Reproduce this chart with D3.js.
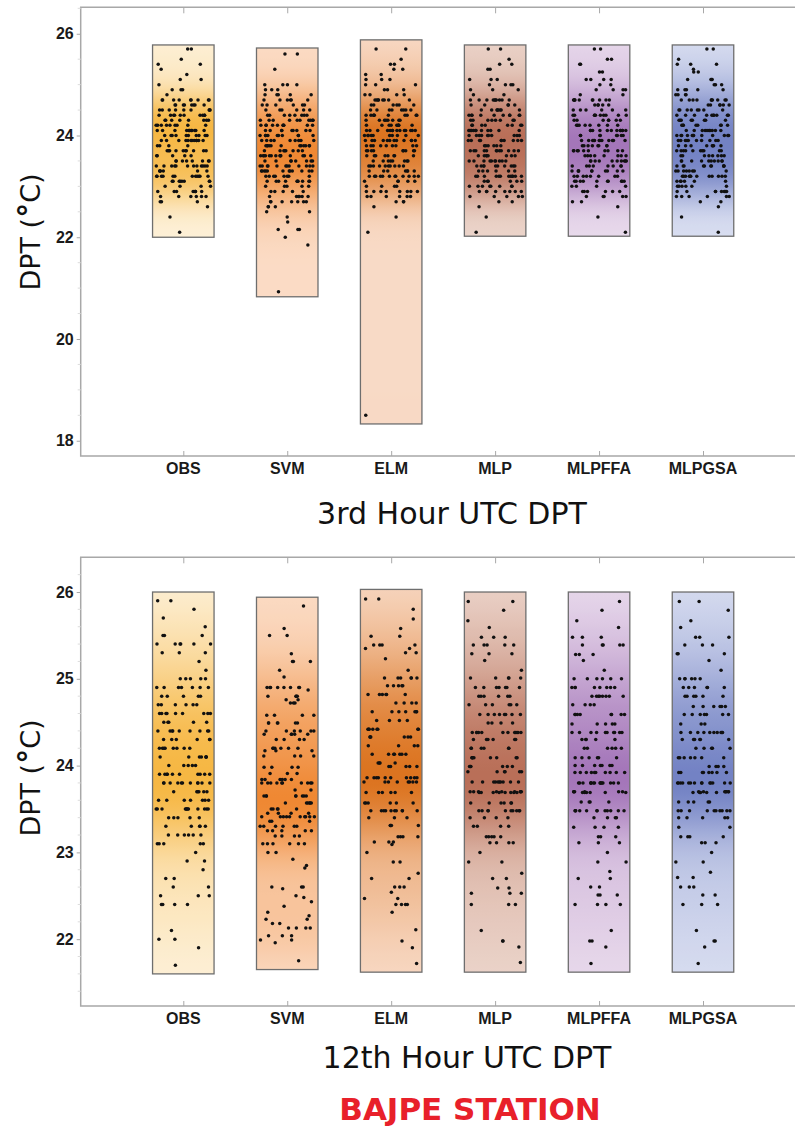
<!DOCTYPE html>
<html><head><meta charset="utf-8">
<script src="https://cdn.jsdelivr.net/npm/d3@7"></script>
<style>body{margin:0;background:#fff}svg{display:block}</style>
</head><body>
<svg id="chart" width="795" height="1126"></svg>
<script>
// ---------- data ----------
const categories = ["OBS","SVM","ELM","MLP","MLPFFA","MLPGSA"];
const lightColors = ["#fdf1da","#fbdcc6","#f8dac6","#ecd6cc","#e9dbec","#dadff1"];
const darkColors  = ["#f6b743","#ef8833","#dc7420","#b96f58","#a476b9","#7382c4"];

const ticks03 = [18,20,22,24,26];
const ticks12 = [22,23,24,25,26];
const titles = ["3rd Hour UTC DPT","12th Hour UTC DPT"];
const stationName = "BAJPE STATION";

// box extents (value range drawn for each category)
const box03Low  = [22.0, 20.83, 18.33, 22.02, 22.02, 22.02];
const box03High = [25.78, 25.72, 25.88, 25.78, 25.78, 25.78];
const box12Low  = [21.6, 21.65, 21.62, 21.62, 21.62, 21.62];
const box12High = [26.0, 25.94, 26.03, 26.0, 26.0, 26.0];

// [value, count] pairs – 3rd hour
const h03_OBS = [[25.7,2],[25.5,1],[25.4,2],[25.3,1],[25.2,1],[25.1,2],[25.0,1],[24.9,3],[24.8,1],[24.7,9],[24.6,8],[24.5,9],[24.4,10],[24.3,8],[24.2,9],[24.1,12],[24.0,10],[23.9,12],[23.8,4],[23.7,10],[23.6,5],[23.5,8],[23.4,12],[23.3,6],[23.2,12],[23.1,8],[23.0,4],[22.9,8],[22.8,6],[22.7,3],[22.6,1],[22.4,1],[22.1,1]];
const h03_SVM = [[25.6,2],[25.3,1],[25.0,4],[24.9,3],[24.8,5],[24.7,6],[24.6,6],[24.5,6],[24.4,8],[24.3,10],[24.2,10],[24.1,9],[24.0,10],[23.9,9],[23.8,12],[23.7,8],[23.6,14],[23.5,8],[23.4,12],[23.3,12],[23.2,8],[23.1,10],[23.0,5],[22.9,5],[22.8,6],[22.7,7],[22.6,3],[22.5,2],[22.4,1],[22.3,1],[22.15,3],[22.0,1],[21.85,1],[20.93,1]];
const h03_ELM = [[25.7,2],[25.5,1],[25.4,2],[25.3,2],[25.2,2],[25.1,3],[25.0,3],[24.9,3],[24.8,4],[24.7,8],[24.6,6],[24.5,8],[24.4,10],[24.3,8],[24.2,9],[24.1,14],[24.0,10],[23.9,12],[23.8,9],[23.7,9],[23.6,8],[23.5,8],[23.4,10],[23.3,7],[23.2,12],[23.1,5],[23.0,4],[22.9,8],[22.8,6],[22.7,3],[22.6,1],[22.4,1],[22.1,1],[18.5,1]];
const h03_MLP = [[25.7,2],[25.5,1],[25.4,2],[25.3,2],[25.1,3],[25.0,4],[24.9,3],[24.8,2],[24.7,10],[24.6,5],[24.5,8],[24.4,10],[24.3,8],[24.2,8],[24.1,12],[24.0,10],[23.9,10],[23.8,6],[23.7,12],[23.6,8],[23.5,10],[23.4,10],[23.3,6],[23.2,12],[23.1,6],[23.0,8],[22.9,8],[22.8,5],[22.7,2],[22.6,1],[22.4,1],[22.1,1]];
const h03_MLPFFA = [[25.7,2],[25.5,2],[25.4,2],[25.25,2],[25.1,4],[25.0,2],[24.9,4],[24.8,2],[24.7,10],[24.6,5],[24.5,6],[24.4,10],[24.3,7],[24.2,8],[24.1,12],[24.0,8],[23.9,12],[23.8,8],[23.7,10],[23.6,8],[23.5,10],[23.4,8],[23.3,10],[23.2,8],[23.1,10],[23.0,4],[22.9,6],[22.8,5],[22.7,2],[22.6,1],[22.4,1],[22.1,1]];
const h03_MLPGSA = [[25.7,2],[25.5,1],[25.4,3],[25.3,1],[25.25,2],[25.1,4],[25.0,3],[24.9,5],[24.8,4],[24.7,10],[24.6,6],[24.5,8],[24.4,10],[24.3,8],[24.2,8],[24.1,10],[24.0,12],[23.9,10],[23.8,8],[23.7,10],[23.6,8],[23.5,10],[23.4,10],[23.3,8],[23.2,12],[23.1,6],[23.0,6],[22.9,8],[22.8,6],[22.7,2],[22.6,1],[22.4,1],[22.1,1]];

// 12th hour
const h12_OBS = [[25.9,2],[25.8,1],[25.7,1],[25.6,1],[25.5,3],[25.4,6],[25.3,3],[25.2,1],[25.1,1],[25.0,5],[24.9,7],[24.8,5],[24.7,6],[24.6,9],[24.5,5],[24.4,9],[24.3,6],[24.2,8],[24.1,7],[24.0,5],[23.9,10],[23.8,11],[23.7,6],[23.6,7],[23.5,12],[23.4,5],[23.3,5],[23.2,6],[23.1,5],[23.0,1],[22.9,2],[22.8,1],[22.7,2],[22.6,2],[22.5,3],[22.4,4],[22.1,1],[22.0,2],[21.9,1],[21.7,1]];
const h12_SVM = [[25.84,1],[25.58,1],[25.5,2],[25.29,1],[25.2,3],[25.1,1],[25.02,1],[24.9,8],[24.87,1],[24.8,4],[24.76,2],[24.72,3],[24.58,4],[24.49,6],[24.4,6],[24.36,5],[24.3,4],[24.2,6],[24.17,3],[24.11,4],[23.98,4],[23.91,3],[23.84,6],[23.8,10],[23.72,2],[23.65,8],[23.57,6],[23.5,5],[23.45,4],[23.41,10],[23.36,3],[23.3,6],[23.25,5],[23.19,4],[23.1,6],[23.0,2],[22.92,1],[22.85,1],[22.82,1],[22.6,3],[22.58,1],[22.5,1],[22.48,1],[22.43,1],[22.38,1],[22.31,1],[22.27,1],[22.23,2],[22.18,2],[22.13,4],[22.04,3],[21.99,2],[21.96,1],[21.75,1]];
const h12_ELM = [[25.92,2],[25.8,1],[25.69,1],[25.58,1],[25.49,2],[25.39,4],[25.35,2],[25.3,2],[25.23,1],[25.1,1],[25.01,6],[24.92,5],[24.82,6],[24.72,4],[24.62,7],[24.52,4],[24.42,8],[24.33,6],[24.23,4],[24.13,7],[24.03,4],[23.99,5],[23.86,10],[23.81,8],[23.69,6],[23.57,6],[23.48,10],[23.4,3],[23.31,4],[23.18,4],[23.12,3],[23.09,1],[23.0,1],[22.89,2],[22.76,1],[22.7,2],[22.6,3],[22.54,1],[22.47,2],[22.4,4],[22.31,1],[22.11,1],[21.98,1],[21.9,1],[21.72,1]];
const h12_MLP = [[25.89,2],[25.79,1],[25.67,1],[25.59,1],[25.48,3],[25.39,5],[25.29,3],[25.21,1],[25.1,1],[25.01,5],[24.9,7],[24.8,6],[24.7,6],[24.59,8],[24.49,4],[24.38,12],[24.3,6],[24.2,6],[24.09,8],[23.99,6],[23.93,6],[23.81,10],[23.7,9],[23.69,8],[23.57,6],[23.48,10],[23.4,4],[23.3,4],[23.18,5],[23.11,4],[23.0,1],[22.89,2],[22.76,1],[22.7,2],[22.59,2],[22.53,3],[22.4,3],[22.1,1],[21.98,2],[21.91,1],[21.73,1]];
const h12_MLPFFA = [[25.89,1],[25.79,1],[25.67,1],[25.59,1],[25.48,3],[25.39,5],[25.28,3],[25.21,1],[25.1,1],[25.0,6],[24.9,8],[24.8,8],[24.7,4],[24.59,8],[24.48,5],[24.38,10],[24.3,5],[24.2,6],[24.09,6],[24.0,7],[23.92,10],[23.8,16],[23.7,6],[23.69,6],[23.58,4],[23.48,12],[23.4,4],[23.29,4],[23.18,3],[23.11,3],[23.0,1],[22.89,2],[22.78,1],[22.7,2],[22.6,2],[22.51,3],[22.4,4],[22.1,1],[21.98,2],[21.91,1],[21.72,1]];
const h12_MLPGSA = [[25.89,2],[25.79,1],[25.67,1],[25.59,1],[25.48,3],[25.39,3],[25.29,3],[25.21,1],[25.1,1],[25.0,6],[24.9,6],[24.8,6],[24.68,6],[24.59,7],[24.48,3],[24.38,10],[24.3,6],[24.2,5],[24.09,7],[23.99,4],[23.92,8],[23.8,14],[23.7,7],[23.69,5],[23.58,5],[23.48,10],[23.4,5],[23.29,2],[23.18,4],[23.11,3],[23.0,1],[22.89,2],[22.77,1],[22.71,2],[22.6,3],[22.51,2],[22.4,3],[22.1,1],[21.98,2],[21.91,1],[21.72,1]];

// ---------- drawing ----------
const svg = d3.select("#chart");
const axisX = 80.7, frameRight = 802;

const panels = [
  {title: titles[0], data:[h03_OBS,h03_SVM,h03_ELM,h03_MLP,h03_MLPFFA,h03_MLPGSA],
   low: box03Low, high: box03High, ticks: ticks03, minorStep: 0.5,
   domain:[17.7,26.52], top:7.3, bottom:456, bw:0.3,
   titleX:452, titleY:524, labelY:232, catY:474},
  {title: titles[1], data:[h12_OBS,h12_SVM,h12_ELM,h12_MLP,h12_MLPFFA,h12_MLPGSA],
   low: box12Low, high: box12High, ticks: ticks12, minorStep: 0.2,
   domain:[21.23,26.40], top:557.3, bottom:1006, bw:0.34,
   titleX:467, titleY:1068, labelY:778, catY:1024}
];

const x = d3.scalePoint().domain(categories).range([183.3, 703]);
const boxW = 61.5;
const defs = svg.append("defs");
// deterministic horizontal scatter (position only, not data): integer hash
const spread = (j, ci, pi) => {
  let h = (j + 1) * 374761393 + (ci + 1) * 668265263 + (pi + 1) * 2246822519;
  h = Math.imul(h ^ (h >>> 13), 1274126177);
  h = h ^ (h >>> 16);
  h = Math.imul(h, 2654435761);
  h = h ^ (h >>> 15);
  return (h >>> 0) / 4294967296;
};

panels.forEach((p, pi) => {
  const y = d3.scaleLinear().domain(p.domain).range([p.bottom, p.top]);
  const g = svg.append("g");

  // frame
  g.append("path")
    .attr("d", `M${frameRight},${p.top}H${axisX}V${p.bottom}H${frameRight}`)
    .attr("fill","none").attr("stroke","#a8a8a8").attr("stroke-width",1.5);

  // minor ticks
  const minor = d3.range(Math.ceil(p.domain[0]/p.minorStep)*p.minorStep, p.domain[1], p.minorStep)
    .filter(v => Math.abs(v - Math.round(v)) > 1e-6 || !p.ticks.includes(Math.round(v)));
  g.selectAll(".minor").data(minor).join("line")
    .attr("x1", axisX).attr("x2", axisX - 3)
    .attr("y1", d => y(d)).attr("y2", d => y(d))
    .attr("stroke","#dcdcdc").attr("stroke-width",1);

  // y axis
  const yAxis = d3.axisLeft(y).tickValues(p.ticks).tickSize(4).tickPadding(3).tickFormat(d3.format("d"));
  const ya = g.append("g").attr("transform",`translate(${axisX},0)`).call(yAxis);
  ya.select(".domain").remove();
  ya.selectAll("line").attr("stroke","#a8a8a8");
  ya.selectAll("text").attr("font-family","'Liberation Sans', Arial, sans-serif")
    .attr("font-weight","bold").attr("font-size",16).attr("fill","#1a1a1a");

  // x ticks (bottom inward, top inward)
  const xb = g.append("g").attr("transform",`translate(0,${p.bottom})`)
    .call(d3.axisBottom(x).tickSize(-5).tickPadding(0).tickFormat(""));
  xb.select(".domain").remove();
  xb.selectAll("line").attr("stroke","#a8a8a8");
  const xt = g.append("g").attr("transform",`translate(0,${p.top})`)
    .call(d3.axisTop(x).tickSize(-6).tickFormat(""));
  xt.select(".domain").remove();
  xt.selectAll("line").attr("stroke","#a8a8a8");

  // category labels
  g.selectAll(".cat").data(categories).join("text")
    .attr("x", d => x(d)).attr("y", p.catY)
    .attr("text-anchor","middle")
    .attr("font-family","'Liberation Sans', Arial, sans-serif")
    .attr("font-weight","bold").attr("font-size",16).attr("fill","#1a1a1a")
    .text(d => d);

  // boxes with density gradients and points
  categories.forEach((c, ci) => {
    const hist = p.data[ci];
    const lo = p.low[ci], hi = p.high[ci];
    const dens = v => d3.sum(hist, h => h[1]*Math.exp(-0.5*Math.pow((v-h[0])/p.bw,2)));
    const N = 80;
    const vals = d3.range(N+1).map(k => hi - k/N*(hi-lo));
    const ds = vals.map(dens);
    const maxD = d3.max(ds);
    const col = d3.interpolateRgb(lightColors[ci], darkColors[ci]);
    const gid = `grad${pi}_${ci}`;
    const grad = defs.append("linearGradient").attr("id", gid)
      .attr("x1",0).attr("y1",0).attr("x2",0).attr("y2",1);
    grad.selectAll("stop").data(ds).join("stop")
      .attr("offset",(d,k)=>k/N)
      .attr("stop-color", d => col(Math.pow(d/maxD, 1.1)));

    const cx = x(c);
    g.append("rect")
      .attr("x", cx - boxW/2).attr("y", y(hi))
      .attr("width", boxW).attr("height", y(lo) - y(hi))
      .attr("fill", `url(#${gid})`)
      .attr("stroke","#6e6e6e").attr("stroke-width",1.3);

    const pts = [];
    hist.forEach(h => { for (let k=0;k<h[1];k++) pts.push(h[0]); });
    g.selectAll(null).data(pts).join("circle")
      .attr("cx", (d,j) => cx - boxW/2 + 3.5 + spread(j, ci, pi)*(boxW - 7))
      .attr("cy", d => y(d))
      .attr("r", 1.75)
      .attr("fill","#111");
  });

  // y label
  const yl = svg.append("text")
    .attr("transform",`translate(40,${p.labelY}) rotate(-90)`)
    .attr("text-anchor","middle")
    .attr("font-family","'DejaVu Sans', Verdana, sans-serif")
    .attr("font-size",27).attr("fill","#111");
  yl.append("tspan").text("DPT (");
  yl.append("tspan").attr("font-weight","bold").attr("font-size",30).text("°");
  yl.append("tspan").text("C)");

  // title
  svg.append("text")
    .attr("x", p.titleX).attr("y", p.titleY)
    .attr("text-anchor","middle")
    .attr("font-family","'DejaVu Sans', Verdana, sans-serif")
    .attr("font-size",30).attr("fill","#111")
    .text(p.title);
});

svg.append("text")
  .attr("x", 470).attr("y", 1120)
  .attr("text-anchor","middle")
  .attr("font-family","'DejaVu Sans', Verdana, sans-serif")
  .attr("font-weight","bold").attr("font-size",31).attr("fill","#e8202a")
  .text(stationName);
</script>
</body></html>
